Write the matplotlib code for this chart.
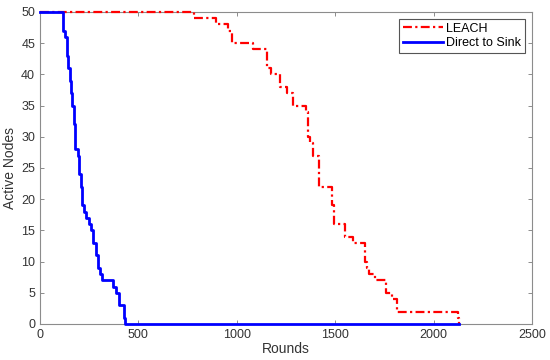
import numpy as np
import matplotlib.pyplot as plt

# step data: (round, active nodes)
leach_rounds = [0, 784, 894, 955, 975, 1082, 1155, 1175, 1220, 1255, 1285, 1350,
                1360, 1370, 1385, 1420, 1485, 1495, 1550, 1590, 1651, 1660, 1670,
                1700, 1758, 1790, 1812, 2125, 2130]
leach_nodes = [50, 49, 48, 47, 45, 44, 41, 40, 38, 37, 35, 34,
               30, 29, 27, 22, 19, 16, 14, 13, 10, 9, 8,
               7, 5, 4, 2, 1, 0]

direct_rounds = [0, 117, 125, 135, 142, 150, 158, 165, 172, 180, 192, 200, 208,
                 215, 222, 235, 248, 258, 270, 285, 295, 305, 315, 370, 385,
                 400, 425, 432, 2130]
direct_nodes = [50, 47, 46, 43, 41, 39, 37, 35, 32, 28, 27, 24, 22,
                19, 18, 17, 16, 15, 13, 11, 9, 8, 7, 6, 5,
                3, 1, 0, 0]

xticks = [0, 500, 1000, 1500, 2000, 2500]
yticks = list(range(0, 51, 5))

plt.rcParams['font.family'] = ['Liberation Sans', 'DejaVu Sans']

fig = plt.figure(figsize=(5.5, 3.6), dpi=100)
ax = fig.add_axes([0.0727, 0.1, 0.8945, 0.8667])

ax.plot(leach_rounds, leach_nodes, drawstyle='steps-post', color='#ff0000',
        linestyle=(0, (4, 1.5, 1, 1.5)), linewidth=1.6, label='LEACH',
        zorder=5, clip_on=False)
ax.plot(direct_rounds, direct_nodes, drawstyle='steps-post', color='#0000ff',
        linestyle='-', linewidth=2.0, label='Direct to Sink',
        zorder=6, clip_on=False)

ax.set_xlim(0, 2500)
ax.set_ylim(0, 50)
ax.set_xticks(xticks)
ax.set_yticks(yticks)
ax.tick_params(direction='in', length=3, top=True, right=True,
               labelsize=9, colors='#8c8c8c', labelcolor='#333333', width=0.7)
for s in ax.spines.values():
    s.set_color('#8c8c8c')
    s.set_linewidth(0.8)

ax.set_xlabel('Rounds', fontsize=10, color='#333333', labelpad=1)
ax.set_ylabel('Active Nodes', fontsize=10, color='#333333', labelpad=3)

leg = ax.legend(loc='upper right', fontsize=9, fancybox=False, edgecolor='#555555',
                framealpha=1, handlelength=3.2, borderpad=0.3, labelspacing=0.2,
                handletextpad=0.3, borderaxespad=0.55)
leg.get_frame().set_linewidth(0.8)
leg.set_zorder(10)

fig.savefig('out.png', dpi=100)
